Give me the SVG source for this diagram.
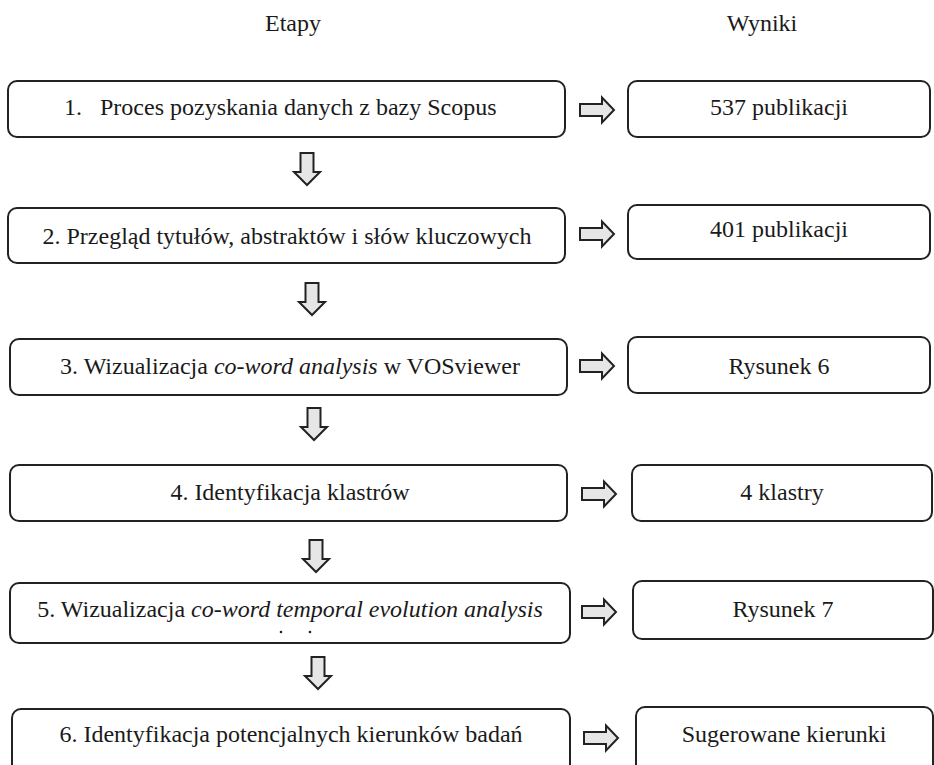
<svg xmlns="http://www.w3.org/2000/svg" width="934" height="765" viewBox="0 0 934 765">
<style>
.box{fill:#fff;stroke:#222;stroke-width:2}
.arr{fill:#e6e6e6;stroke:#222;stroke-width:2}
</style>
<text font-family="Liberation Serif, serif" font-size="24" fill="#1a1a1a" text-anchor="middle" x="293" y="31">Etapy</text>
<text font-family="Liberation Serif, serif" font-size="24" fill="#1a1a1a" text-anchor="middle" x="762" y="31">Wyniki</text>

<g id="n1"><rect class="box" x="8" y="81" width="557" height="56" rx="9"/><text font-family="Liberation Serif, serif" font-size="24" fill="#1a1a1a" x="64" y="115">1.<tspan x="100">Proces pozyskania danych z bazy Scopus</tspan></text></g>
<g id="r1"><rect class="box" x="628" y="81" width="302" height="56" rx="9"/><text font-family="Liberation Serif, serif" font-size="24" fill="#1a1a1a" text-anchor="middle" x="779" y="115">537 publikacji</text></g>

<g id="n2"><rect class="box" x="8" y="208" width="557" height="55" rx="9"/><text font-family="Liberation Serif, serif" font-size="24" fill="#1a1a1a" text-anchor="middle" x="287" y="244">2. Przegląd tytułów, abstraktów i słów kluczowych</text></g>
<g id="r2"><rect class="box" x="628" y="205" width="302" height="54" rx="9"/><text font-family="Liberation Serif, serif" font-size="24" fill="#1a1a1a" text-anchor="middle" x="779" y="237">401 publikacji</text></g>

<g id="n3"><rect class="box" x="10" y="339" width="557" height="56" rx="9"/><text font-family="Liberation Serif, serif" font-size="24" fill="#1a1a1a" text-anchor="middle" x="290" y="374">3. Wizualizacja <tspan font-style="italic">co-word analysis</tspan> w VOSviewer</text></g>
<g id="r3"><rect class="box" x="628" y="337" width="302" height="56" rx="9"/><text font-family="Liberation Serif, serif" font-size="24" fill="#1a1a1a" text-anchor="middle" x="779" y="374">Rysunek 6</text></g>

<g id="n4"><rect class="box" x="10" y="465" width="557" height="56" rx="9"/><text font-family="Liberation Serif, serif" font-size="24" fill="#1a1a1a" text-anchor="middle" x="290" y="500">4. Identyfikacja klastrów</text></g>
<g id="r4"><rect class="box" x="632" y="465" width="300" height="56" rx="9"/><text font-family="Liberation Serif, serif" font-size="24" fill="#1a1a1a" text-anchor="middle" x="782" y="500">4 klastry</text></g>

<g id="n5"><rect class="box" x="10" y="583" width="560" height="60" rx="9"/><text font-family="Liberation Serif, serif" font-size="24" fill="#1a1a1a" text-anchor="middle" x="290" y="617">5. Wizualizacja <tspan font-style="italic">co-word temporal evolution analysis</tspan></text><circle cx="281" cy="632" r="1.3" fill="#222"/><circle cx="310" cy="632" r="1.3" fill="#222"/></g>
<g id="r5"><rect class="box" x="633" y="581" width="300" height="58" rx="9"/><text font-family="Liberation Serif, serif" font-size="24" fill="#1a1a1a" text-anchor="middle" x="783" y="617">Rysunek 7</text></g>

<g id="n6"><rect class="box" x="12" y="709" width="558" height="70" rx="9"/><text font-family="Liberation Serif, serif" font-size="24" fill="#1a1a1a" text-anchor="middle" x="291" y="742">6. Identyfikacja potencjalnych kierunków badań</text></g>
<g id="r6"><rect class="box" x="636" y="707" width="297" height="70" rx="9"/><text font-family="Liberation Serif, serif" font-size="24" fill="#1a1a1a" text-anchor="middle" x="784" y="742">Sugerowane kierunki</text></g>

<g id="connectors">
<path class="arr" d="M580,104 H602 V97.5 L614,110 L602,122.5 V116 H580 Z"/>
<path class="arr" d="M580,228 H602 V221.5 L614,234 L602,246.5 V240 H580 Z"/>
<path class="arr" d="M580,360 H602 V353.5 L614,366 L602,378.5 V372 H580 Z"/>
<path class="arr" d="M582,488 H604 V481.5 L616,494 L604,506.5 V500 H582 Z"/>
<path class="arr" d="M582,606 H604 V599.5 L616,612 L604,624.5 V618 H582 Z"/>
<path class="arr" d="M584,732 H606 V725.5 L618,738 L606,750.5 V744 H584 Z"/>
<path class="arr" d="M300.5,153 H313.5 V172 H320 L307,185 L294,172 H300.5 Z"/>
<path class="arr" d="M305.5,283 H318.5 V302 H325 L312,315 L299,302 H305.5 Z"/>
<path class="arr" d="M307.5,408 H320.5 V427 H327 L314,440 L301,427 H307.5 Z"/>
<path class="arr" d="M309.5,540 H322.5 V559 H329 L316,572 L303,559 H309.5 Z"/>
<path class="arr" d="M311.5,657 H324.5 V676 H331 L318,689 L305,676 H311.5 Z"/>
</g>
</svg>
